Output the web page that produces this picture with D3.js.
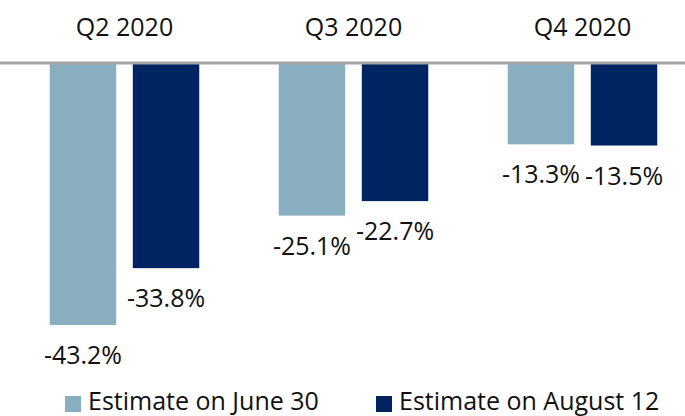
<!DOCTYPE html>
<html><head><meta charset="utf-8">
<script src="https://cdn.jsdelivr.net/npm/d3@7"></script>
<style>body{margin:0;background:#fff}svg{display:block}text{font-family:"Open Sans",sans-serif;fill:#111}</style>
</head><body><svg id="c" width="685" height="416"></svg>
<script>
const categories = ["Q2 2020", "Q3 2020", "Q4 2020"];
const seriesNames = ["Estimate on June 30", "Estimate on August 12"];
const june30 = [-43.2, -25.1, -13.3];
const aug12 = [-33.8, -22.7, -13.5];
const colors = ["#89AEC0", "#002361"];

const values = [june30, aug12];
const svg = d3.select("#c");
const x0 = d3.scaleBand().domain(categories).range([10, 697]).padding(0);
const step = x0.bandwidth();
const x1 = d3.scaleBand().domain(seriesNames).range([(step - 149.5) / 2, (step + 149.5) / 2]).paddingInner(0.2);
const y = d3.scaleLinear().domain([0, -45]).range([64, 64 + 6.04 * 45]);

const g = svg.append("g");
categories.forEach((c, i) => {
  seriesNames.forEach((s, j) => {
    const v = values[j][i];
    const bx = x0(c) + x1(s);
    g.append("rect").attr("x", bx).attr("y", y(0)).attr("width", x1.bandwidth())
      .attr("height", y(v) - y(0)).attr("fill", colors[j]);
    g.append("text").attr("x", bx + x1.bandwidth() / 2).attr("y", y(v) + 39)
      .attr("text-anchor", "middle").attr("font-size", 25).text(v.toFixed(1) + "%");
  });
  svg.append("text").attr("x", x0(c) + step / 2).attr("y", 36).attr("text-anchor", "middle")
    .attr("font-size", 25).text(c);
});
svg.append("line").attr("x1", 0).attr("x2", 685).attr("y1", y(0) - 1).attr("y2", y(0) - 1)
  .attr("stroke", "#A6A6A6").attr("stroke-width", 3);

const legX = [65, 376];
seriesNames.forEach((s, j) => {
  svg.append("rect").attr("x", legX[j]).attr("y", 396).attr("width", 16).attr("height", 16).attr("fill", colors[j]);
  svg.append("text").attr("x", legX[j] + 23).attr("y", 410).attr("font-size", 25).text(s);
});
</script></body></html>
